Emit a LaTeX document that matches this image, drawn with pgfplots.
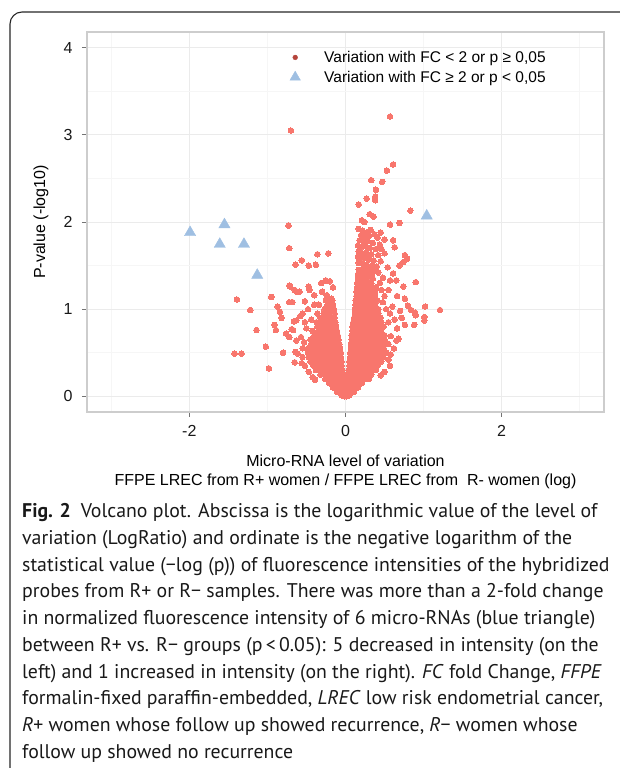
\documentclass[border=0pt]{standalone}
\usepackage{fontspec}
\setmainfont{PT Sans}
\newfontfamily\arialfont{Liberation Sans}
\usepackage{pgfplots}
\pgfplotsset{compat=1.18}
\definecolor{ptred}{HTML}{F8766D}
\definecolor{ptblue}{HTML}{9FBFE2}
\definecolor{legred}{HTML}{B5443C}
\definecolor{gridmaj}{HTML}{EBEBEB}
\definecolor{gridmin}{HTML}{F6F6F6}
\definecolor{panelb}{HTML}{CDCDCD}
\pgfplotsset{mylegimg/.style={legend image code/.code={\path[draw=none, fill=none] (0pt,-4pt) rectangle (38pt,4pt); \draw[mark repeat=2, mark phase=2, ##1] plot coordinates {(0pt,0pt) (10pt,0pt) (38pt,0pt)};}}}
\begin{document}
\begin{tikzpicture}[x=1pt,y=1pt]
\begin{scope}[shift={(-87,412)}]
\path[use as bounding box] (0,0) rectangle (620,-768);
\draw[line width=1.1pt, black!85] (10,-770) -- (10,-24) arc[start angle=180,end angle=90,radius=12] -- (622,-12);
\node[anchor=north west, inner sep=0pt, align=left, text=black!90, font=\fontsize{19.8}{26.7}\selectfont] at (22,-503.5) {%
\textbf{Fig. 2}\hspace{0.5em}Volcano plot. Abscissa is the logarithmic value of the level of\\
variation (LogRatio) and ordinate is the negative logarithm of the\\
statistical value (\symbol{"2212}log (p)) of fluorescence intensities of the hybridized\\
probes from R+ or R\symbol{"2212} samples. There was more than a 2-fold change\\
in normalized fluorescence intensity of 6 micro-RNAs (blue triangle)\\
between R+ vs. R\symbol{"2212} groups (p\,<\,0.05): 5 decreased in intensity (on the\\
left) and 1 increased in intensity (on the right). \textit{FC} fold Change, \textit{FFPE}\\
formalin-fixed paraffin-embedded, \textit{LREC} low risk endometrial cancer,\\
\textit{R}+ women whose follow up showed recurrence, \textit{R}\symbol{"2212} women whose\\
follow up showed no recurrence};
\end{scope}
\begin{axis}[
  width=517pt, height=380pt, scale only axis,
  xmin=-3.31, xmax=3.31, ymin=-0.18, ymax=4.18,
  xtick={-2,0,2}, xticklabels={-2,0,2},
  ytick={0,1,2,3,4}, yticklabels={0,1,2,3,4},
  minor xtick={-3,-1,1,3}, minor ytick={0.5,1.5,2.5,3.5},
  grid=both,
  major grid style={gridmaj, line width=0.8pt},
  minor grid style={gridmin, line width=0.6pt},
  axis line style={panelb, line width=1.2pt},
  tick align=outside, tick pos=left,
  major tick length=5pt, minor tick length=0pt,
  tick style={black!55, line width=0.9pt},
  tick label style={font=\arialfont\fontsize{16}{16}\selectfont, text=black!90},
  yticklabel style={xshift=-6pt},
  xticklabel style={yshift=-5pt},
  xlabel={Micro-RNA level of variation\\FFPE LREC from R+ women / FFPE LREC from\ \ R- women (log)},
  xlabel style={at={(axis description cs:0.5,-0.157)}, anchor=center, align=center, font=\arialfont\fontsize{16}{19}\selectfont, inner sep=0pt},
  ylabel={P-value (-log10)},
  ylabel style={at={(axis description cs:-0.089,0.5)}, anchor=center, font=\arialfont\fontsize{16}{16}\selectfont, inner sep=0pt},
  legend style={at={(axis description cs:0.383,0.953)}, anchor=north west, draw=none, fill=none,
    font=\arialfont\fontsize{15.5}{17}\selectfont, row sep=5pt, inner sep=0pt, nodes={inner sep=1pt}},
  legend cell align=left,
]
\addlegendimage{only marks, mark=*, mark size=2.4, mark options={fill=legred, draw=legred}, mylegimg}
\addlegendentry{Variation with FC < 2 or p ≥ 0,05}
\addlegendimage{only marks, mark=triangle*, mark size=6, mark options={fill=ptblue, draw=ptblue}, mylegimg}
\addlegendentry{Variation with FC ≥ 2 or p < 0,05}
% red points: not significant
\addplot[forget plot, only marks, mark=*, mark size=2.8, mark options={fill=ptred, draw=ptred, line width=0pt}] coordinates {
(-0.70,3.05) (0.57,3.21) (0.61,2.66) (0.53,2.59) (0.33,2.48) (0.47,2.46) (0.39,2.37) (0.38,2.29) (0.38,2.25) (0.27,2.27)
(0.17,2.20) (0.83,2.13) (0.31,2.09) (0.36,2.06) (0.21,2.02) (0.24,2.00) (0.57,1.97) (0.69,1.99) (-0.73,1.96) (-0.72,1.70)
(0.17,1.92) (0.22,1.90) (0.27,1.88) (0.32,1.91) (0.37,1.86) (0.45,1.88) (0.20,1.85) (0.25,1.83) (0.30,1.84) (0.41,1.82)
(0.50,1.80) (0.61,1.79) (0.18,1.79) (0.23,1.77) (0.28,1.78) (0.35,1.76) (0.44,1.74) (0.63,1.71) (0.16,1.73) (0.21,1.71)
(0.26,1.72) (0.31,1.70) (0.39,1.69) (0.46,1.69) (0.50,1.64) (0.17,1.66) (0.22,1.64) (0.27,1.65) (0.33,1.63) (0.42,1.62)
(0.16,1.60) (0.20,1.58) (0.25,1.59) (0.30,1.57) (0.36,1.56) (0.45,1.55) (0.54,1.48) (0.17,1.53) (0.22,1.52) (0.27,1.51)
(0.34,1.50) (0.40,1.49) (0.76,1.62) (0.79,1.58) (0.74,1.54) (0.69,1.50)
(0.90,1.31) (0.61,1.41) (0.57,1.33) (0.65,1.33) (0.74,1.26) (0.76,1.12) (0.80,1.04) (0.84,0.99) (1.02,1.03) (1.21,0.99)
(1.01,0.91) (1.01,0.87) (0.89,0.96) (0.90,0.93) (0.88,0.82) (0.76,0.82) (0.65,0.64) (0.60,1.03) (0.63,0.88) (0.66,0.78)
(0.58,0.69) (0.68,0.66) (0.55,0.60) (0.62,0.55) (0.58,0.48) (0.55,0.42) (0.57,0.35) (0.50,0.28) (0.45,0.24) (0.55,0.85)
(0.57,0.95) (0.52,1.00) (0.48,1.08) (0.50,1.15) (0.46,1.22) (0.44,1.30) (0.48,1.36) (0.42,1.42) (0.55,1.22) (0.66,1.15)
(0.70,0.98) (0.72,0.90)
(-1.39,1.11) (-0.95,1.14) (-1.22,0.99) (-1.14,0.76) (-1.02,0.57) (-1.42,0.49) (-1.33,0.49) (-0.80,0.50) (-0.98,0.32) (-0.71,1.26)
(-0.87,1.03) (-0.84,0.97) (-0.82,0.90) (-0.91,0.82) (-0.89,0.76) (-0.76,0.72) (-0.72,0.68) (-0.66,0.86) (-0.69,0.77) (-0.63,0.64)
(-0.61,0.49) (-0.65,0.39) (-0.63,1.20) (-0.72,1.08) (-0.68,1.08)
(-0.64,1.51) (-0.56,1.56) (-0.47,1.50) (-0.36,1.63) (-0.38,1.51) (-0.22,1.64)
(-0.72,1.27) (-0.65,1.22) (-0.59,1.20) (-0.47,1.26) (-0.31,1.30) (-0.20,1.32) (-0.16,1.25) (-0.30,1.20) (-0.24,1.16) (-0.40,1.16)
(-0.52,1.09) (-0.18,1.12) (-0.55,0.95) (-0.63,0.87) (-0.67,0.76) (-0.57,0.68) (-0.64,0.51) (-0.55,0.45) (-0.25,1.33) (-0.46,1.22)
(-0.40,1.05) (-0.48,1.00) (-0.58,0.92) (-0.52,0.85) (-0.50,0.78) (-0.53,0.62) (-0.55,0.55) (-0.52,0.35) (-0.47,0.28) (-0.42,0.22)
(-0.39,0.19) (-0.56,0.38) (-0.36,0.95) (-0.44,0.88) (-0.34,1.05)
(-0.01,0.00) (-0.05,0.01)
(-0.02,0.05) (-0.07,0.05) (-0.11,0.05)
(-0.01,0.10) (-0.06,0.10) (-0.11,0.10) (-0.16,0.10)
(-0.03,0.15) (-0.09,0.15) (-0.15,0.15) (-0.21,0.15)
(-0.02,0.20) (-0.08,0.20) (-0.14,0.20) (-0.20,0.20) (-0.26,0.20)
(-0.03,0.25) (-0.09,0.25) (-0.15,0.25) (-0.21,0.25) (-0.27,0.25) (-0.32,0.25)
(-0.04,0.30) (-0.10,0.30) (-0.16,0.30) (-0.22,0.30) (-0.28,0.30) (-0.34,0.30) (-0.38,0.30)
(-0.05,0.35) (-0.11,0.35) (-0.17,0.35) (-0.23,0.35) (-0.29,0.35) (-0.35,0.35) (-0.41,0.35)
(-0.05,0.40) (-0.11,0.40) (-0.17,0.40) (-0.23,0.40) (-0.29,0.40) (-0.35,0.40) (-0.41,0.40) (-0.45,0.40)
(-0.06,0.45) (-0.12,0.45) (-0.18,0.45) (-0.24,0.45) (-0.30,0.45) (-0.36,0.45) (-0.42,0.45) (-0.47,0.45)
(-0.06,0.50) (-0.12,0.50) (-0.18,0.50) (-0.24,0.50) (-0.30,0.50) (-0.36,0.50) (-0.42,0.50) (-0.48,0.50)
(-0.07,0.55) (-0.13,0.55) (-0.19,0.55) (-0.25,0.55) (-0.31,0.55) (-0.37,0.55) (-0.43,0.55) (-0.48,0.55)
(-0.08,0.60) (-0.14,0.60) (-0.20,0.60) (-0.26,0.60) (-0.32,0.60) (-0.38,0.60) (-0.44,0.60)
(-0.09,0.65) (-0.15,0.65) (-0.21,0.65) (-0.27,0.65) (-0.33,0.65) (-0.39,0.65) (-0.45,0.65)
(-0.10,0.70) (-0.16,0.70) (-0.22,0.70) (-0.28,0.70) (-0.34,0.70) (-0.40,0.70)
(-0.11,0.75) (-0.17,0.75) (-0.23,0.75) (-0.29,0.75) (-0.35,0.75) (-0.42,0.75)
(-0.12,0.80) (-0.18,0.80) (-0.24,0.80) (-0.30,0.80) (-0.36,0.80)
(-0.13,0.85) (-0.19,0.85) (-0.25,0.85) (-0.31,0.85) (-0.37,0.85)
(-0.14,0.90) (-0.20,0.90) (-0.26,0.90) (-0.32,0.90)
(-0.14,0.95) (-0.21,0.95) (-0.28,0.95)
(-0.15,1.00) (-0.21,1.00) (-0.27,1.00)
(-0.16,1.05) (-0.23,1.05)
(-0.17,1.10) (-0.25,1.10)
(0.01,0.00) (0.05,0.01)
(0.02,0.05) (0.07,0.05) (0.11,0.05)
(0.01,0.10) (0.06,0.10) (0.11,0.10) (0.16,0.10)
(0.03,0.15) (0.09,0.15) (0.15,0.15) (0.21,0.15)
(0.02,0.20) (0.08,0.20) (0.14,0.20) (0.20,0.20) (0.26,0.20) (0.30,0.20)
(0.03,0.25) (0.09,0.25) (0.15,0.25) (0.21,0.25) (0.27,0.25) (0.33,0.25)
(0.04,0.30) (0.10,0.30) (0.16,0.30) (0.22,0.30) (0.28,0.30) (0.34,0.30) (0.39,0.30)
(0.05,0.35) (0.11,0.35) (0.17,0.35) (0.23,0.35) (0.29,0.35) (0.35,0.35) (0.41,0.35)
(0.05,0.40) (0.11,0.40) (0.17,0.40) (0.23,0.40) (0.29,0.40) (0.35,0.40) (0.41,0.40) (0.46,0.40)
(0.06,0.45) (0.12,0.45) (0.18,0.45) (0.24,0.45) (0.30,0.45) (0.36,0.45) (0.42,0.45) (0.48,0.45)
(0.06,0.50) (0.12,0.50) (0.18,0.50) (0.24,0.50) (0.30,0.50) (0.36,0.50) (0.42,0.50) (0.48,0.50) (0.52,0.50)
(0.07,0.55) (0.13,0.55) (0.19,0.55) (0.25,0.55) (0.31,0.55) (0.37,0.55) (0.43,0.55) (0.49,0.55)
(0.07,0.60) (0.13,0.60) (0.19,0.60) (0.25,0.60) (0.31,0.60) (0.37,0.60) (0.43,0.60) (0.49,0.60) (0.53,0.60)
(0.08,0.65) (0.14,0.65) (0.20,0.65) (0.26,0.65) (0.32,0.65) (0.38,0.65) (0.44,0.65) (0.50,0.65)
(0.08,0.70) (0.14,0.70) (0.20,0.70) (0.26,0.70) (0.32,0.70) (0.38,0.70) (0.44,0.70) (0.50,0.70)
(0.09,0.75) (0.15,0.75) (0.21,0.75) (0.27,0.75) (0.33,0.75) (0.39,0.75) (0.45,0.75)
(0.09,0.80) (0.15,0.80) (0.21,0.80) (0.27,0.80) (0.33,0.80) (0.39,0.80) (0.45,0.80) (0.49,0.80)
(0.10,0.85) (0.16,0.85) (0.22,0.85) (0.28,0.85) (0.34,0.85) (0.40,0.85) (0.46,0.85)
(0.11,0.90) (0.17,0.90) (0.23,0.90) (0.29,0.90) (0.35,0.90) (0.41,0.90) (0.45,0.90)
(0.12,0.95) (0.18,0.95) (0.24,0.95) (0.30,0.95) (0.36,0.95) (0.42,0.95)
(0.12,1.00) (0.18,1.00) (0.24,1.00) (0.30,1.00) (0.36,1.00) (0.42,1.00)
(0.13,1.05) (0.19,1.05) (0.25,1.05) (0.31,1.05) (0.37,1.05)
(0.13,1.10) (0.19,1.10) (0.25,1.10) (0.31,1.10) (0.37,1.10) (0.41,1.10)
(0.14,1.15) (0.20,1.15) (0.26,1.15) (0.32,1.15) (0.38,1.15)
(0.14,1.20) (0.20,1.20) (0.26,1.20) (0.32,1.20) (0.38,1.20)
(0.15,1.25) (0.21,1.25) (0.27,1.25) (0.33,1.25) (0.39,1.25)
(0.15,1.30) (0.21,1.30) (0.27,1.30) (0.33,1.30)
(0.16,1.35) (0.22,1.35) (0.28,1.35) (0.35,1.35)
(0.16,1.40) (0.22,1.40) (0.28,1.40) (0.34,1.40)
(0.17,1.45) (0.23,1.45) (0.29,1.45) (0.35,1.45)
};
% blue triangles: significant
\addplot[forget plot, only marks, mark=triangle*, mark size=6.5, mark options={fill=ptblue, draw=ptblue}] coordinates {
(-1.99,1.88) (-1.55,1.97) (-1.61,1.745) (-1.30,1.745) (-1.13,1.39) (1.04,2.07)
};
\end{axis}
\end{tikzpicture}
\end{document}
